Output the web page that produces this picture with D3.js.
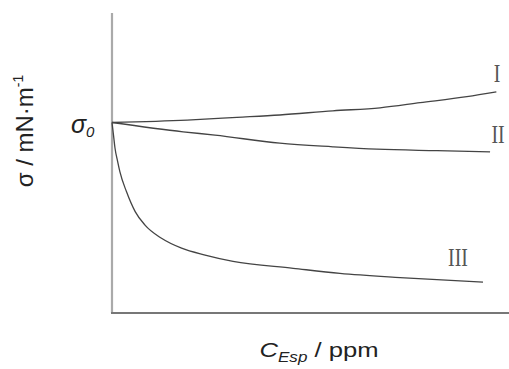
<!DOCTYPE html>
<html><head><meta charset="utf-8">
<script src="https://cdn.jsdelivr.net/npm/d3@7"></script>
<style>html,body{margin:0;padding:0;background:#fff;}svg{display:block;}</style>
</head><body>
<script>
// Data (arbitrary units; no ticks in the original)
const curveNames = ["I", "II", "III"];
const xI = [0, 19.1, 31.8, 42.7, 56.2, 68.2, 78.4, 90.3, 97.8];
const yI = [63.5, 64.3, 65.2, 66.0, 67.4, 68.4, 70.1, 72.1, 73.7];
const xII = [0, 18.1, 26.2, 42.7, 56.2, 67.4, 82.7, 96.2];
const yII = [63.5, 60.4, 59.3, 56.6, 55.4, 54.6, 54.1, 53.7];
const xIII = [0, 0.38, 0.76, 1.4, 2.0, 3.7, 5.9, 8.4, 12.6, 17.7, 23.7, 30.8, 46.1, 58.0, 73.3, 94.4];
const yIII = [63.5, 59.3, 55.0, 50.7, 47.1, 40.4, 33.8, 29.3, 24.9, 21.6, 19.3, 17.2, 14.9, 13.2, 11.8, 10.3];
const sigma0 = 63.5;

const W = 509, H = 369;
const svg = d3.select("body").append("svg").attr("width", W).attr("height", H);

const x = d3.scaleLinear().domain([0, 100]).range([112, 505]);
const y = d3.scaleLinear().domain([0, 100]).range([313, 13]);

// axes
svg.append("line").attr("x1", x(0)).attr("x2", x(0)).attr("y1", y(100)).attr("y2", y(0))
  .attr("stroke", "#aaa").attr("stroke-width", 2.2);
svg.append("line").attr("x1", x(0) - 1).attr("x2", W).attr("y1", y(0)).attr("y2", y(0))
  .attr("stroke", "#777").attr("stroke-width", 2);

const series = [
  {name: curveNames[0], xs: xI, ys: yI},
  {name: curveNames[1], xs: xII, ys: yII},
  {name: curveNames[2], xs: xIII, ys: yIII}
];
const line = d3.line().x(d => x(d[0])).y(d => y(d[1])).curve(d3.curveMonotoneX);
series.forEach(s => {
  svg.append("path").attr("d", line(s.xs.map((v, i) => [v, s.ys[i]])))
    .attr("fill", "none").attr("stroke", "#444").attr("stroke-width", 1.3);
});

// curve labels
const labelPos = [[497, 82], [498, 143], [458, 266]];
curveNames.forEach((n, i) => {
  svg.append("text").attr("transform", `translate(${labelPos[i][0]},${labelPos[i][1]}) scale(0.9,1.1)`)
    .attr("text-anchor", "middle").attr("font-family", "Liberation Serif")
    .attr("font-size", 22).attr("fill", "#555").text(n);
});

// sigma0 label
const s0 = svg.append("text").attr("x", 71).attr("y", y(sigma0) + 10)
  .attr("font-family", "Liberation Sans").attr("font-style", "italic").attr("fill", "#222");
s0.append("tspan").attr("font-size", 25).text("σ");
s0.append("tspan").attr("font-size", 15).attr("dy", 4).text("0");

// y axis title
const yt = svg.append("text").attr("transform", "translate(33,131) rotate(-90)")
  .attr("text-anchor", "middle").attr("font-family", "Liberation Sans").attr("fill", "#222");
yt.append("tspan").attr("font-size", 24).text("σ / mN·m");
yt.append("tspan").attr("font-size", 14).attr("dy", -10).text("-1");

// x axis title
const xt = svg.append("text").attr("transform", "translate(319,357) scale(1.22,1)").attr("text-anchor", "middle")
  .attr("font-family", "Liberation Sans").attr("fill", "#222");
xt.append("tspan").attr("font-size", 21).attr("font-style", "italic").text("C");
xt.append("tspan").attr("font-size", 14).attr("font-style", "italic").attr("dy", 5).text("Esp");
xt.append("tspan").attr("font-size", 21).attr("dy", -5).text(" / ppm");
</script>
</body></html>
